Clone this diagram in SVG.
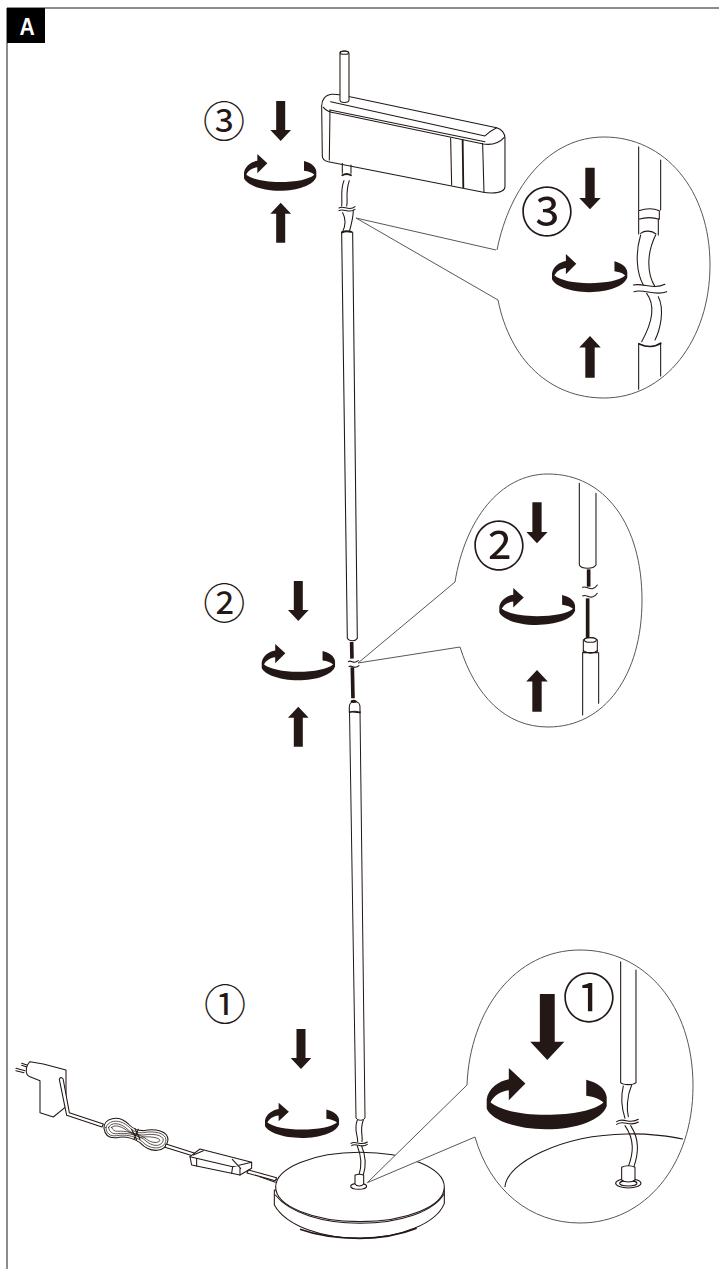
<svg xmlns="http://www.w3.org/2000/svg" xmlns:xlink="http://www.w3.org/1999/xlink" width="719" height="1269" viewBox="0 0 719 1269">
<style>
.l{fill:none;stroke:#231815;stroke-width:3.2;stroke-linecap:round;stroke-linejoin:round}
.f{fill:none;stroke:#231815;stroke-width:2.200;stroke-linecap:round;stroke-linejoin:round}
.w{fill:#fff;stroke:#231815;stroke-width:3.2;stroke-linecap:round;stroke-linejoin:round}
.k{fill:none;stroke:#231815;stroke-width:5.5;stroke-linecap:round}
.h{fill:none;stroke:#231815;stroke-width:11;stroke-linecap:butt}
.c{fill:#fff;stroke:#595757;stroke-width:1}
.t{fill:#231815;font-family:"Noto Sans CJK KR","Liberation Sans",sans-serif;text-anchor:middle}
.d{fill:#231815}
</style>
<defs>
<path id="rot" class="d" d="M180 21C199 26 215 36 217 52L217 68C209 93 162 110 107 110C52 110 9 93 0 73L0 56C3 36 22 23 40 20L40 0L70 28L40 58L40 40C25 42 12 50 7 62C25 76 62 84 107 84C157 84 195 76 211 62C205 56 195 52 180 50Z"/>
<path id="arr" class="d" d="M-13.500 0H13.500V87H31L0 120L-31 87H-13.500Z"/>
</defs>
<rect width="719" height="1269" fill="#fff"/>
<g id="frame">
<path d="M7 1269V8H719" fill="none" stroke="#231815" stroke-width="1"/>
<rect x="7" y="8" width="38" height="35" fill="#000"/>
<text transform="translate(27 35) scale(.88 1)" font-family="'Liberation Sans',sans-serif" font-weight="700" font-size="24" fill="#fff" text-anchor="middle">A</text>
</g>
<g id="base" transform="translate(260 1090) scale(.3333)">
<path class="l" d="M0 250L50 268M0 260L46 277"/>
<path class="w" d="M43 300V345C80 410 190 445 300 445C420 445 530 400 553 340V295Z"/>
<path d="M120 418C180 440 240 445 300 445C360 445 420 435 470 415" fill="none" stroke="#231815" stroke-width="5"/>
<ellipse class="w" cx="300" cy="291" rx="253" ry="104"/>
<path class="l" d="M46 315C90 370 190 400 300 400C420 400 520 365 552 312"/>
</g>
<g id="connectors">
<path id="wedge1" d="M367.300 1182.700L467 1085V1137L475 1137Z" fill="#fff" stroke="none"/>
<path class="c" fill="none" d="M367.300 1182.700L467 1085M367.300 1182.700L475 1137"/>
<path class="c" fill="none" d="M356 218L496 250M356 218L498 300M358 663L455 582M358 663L460 647"/>
</g>
<g id="lamp-head" transform="translate(190 30) scale(.3333)">
<path class="w" d="M395 228C395 210 405 195 425 193C440 192 470 197 480 200L920 293C935 297 945 310 945 325V470C945 482 930 488 905 489C895 489 885 488 880 487L415 395C405 393 397 388 397 378Z"/>
<path class="l" d="M400 232C410 245 425 248 440 250L880 342C900 345 925 342 943 322"/>
<path class="l" d="M420 240L885 335"/>
<path class="l" d="M422 215L885 318C895 308 905 300 920 293"/>
<path class="l" d="M420 240L418 390M782 325L785 465M878 340L882 487"/>
<path class="k" d="M818 330L820 472"/>
<path class="w" d="M450 210V72C450 60 477 60 477 72V210C477 220 450 220 450 210Z"/>
<ellipse class="l" cx="463" cy="68" rx="13" ry="5"/>
<path class="l" d="M457 400V430M483 405V430"/>
<path class="k" d="M457 436C465 431 475 431 483 436"/>
<path class="l" d="M462 452C450 480 458 510 455 528M478 452C465 490 475 510 470 528"/>
<path class="l" d="M447 534C460 525 478 545 495 530M447 542C460 533 478 552 495 538"/>
<path class="l" d="M458 548C470 570 465 590 458 605M490 540C490 565 482 590 478 605"/>
<path class="k" d="M456 607C465 603 475 603 484 606"/>
</g>
<g id="pole-upper" transform="translate(190 570) scale(.3333)">
<path class="l" d="M455 -1014L472 205C478 215 495 215 502 205L488 -1014"/>
<path class="h" d="M485 216L486 266M487 292L489 385"/>
<path class="l" d="M475 275C485 268 490 285 505 272M477 290C487 283 492 300 507 287"/>
<path class="w" d="M478 410C478 390 510 390 510 410V428L478 425Z"/>
<ellipse cx="491" cy="394" rx="9" ry="5" fill="#231815"/>
<path class="l" d="M478 428C488 423 500 423 510 428"/>
</g>
<g id="pole-lower" fill="none" stroke="#231815" stroke-width="1">
<path d="M349.500 711L356 1118C358 1121 363 1121 365 1118L360 711"/>
</g>
<g id="base-wire" transform="translate(260 1090) scale(.3333)">
<path class="l" d="M292 90C280 120 295 140 293 155M310 90C298 120 310 140 306 155"/>
<path class="l" d="M273 160C285 150 305 170 322 156M275 167C287 157 305 177 322 163"/>
<path class="l" d="M292 168C305 200 305 230 297 255M305 168C320 205 318 230 310 255"/>
<ellipse class="w" cx="296" cy="289" rx="24" ry="9"/>
<path class="w" d="M285 256C292 252 305 252 311 256V282C305 290 290 290 285 282Z"/>
</g>
<g id="power-cable" transform="translate(0 1040) scale(.3333)">
<path class="l" d="M48 85L75 92M48 92L72 98M65 70L90 78M65 76L88 83"/>
<path class="w" d="M90 65L130 72L198 90V200L160 231L120 218V122L90 110C75 105 75 80 90 65Z"/>
<path class="w" d="M178 118C180 110 190 112 190 120L208 218L310 252L306 261L200 226Z"/>
<path class="w" d="M312 265C310 235 355 222 385 252C400 268 415 272 430 272C465 265 505 272 504 300C498 340 450 340 420 308C395 292 375 288 350 293C325 296 315 285 312 265Z"/>
<path class="f" d="M318 262C325 240 360 235 388 262C400 275 412 280 430 278C460 272 498 278 498 300C495 330 450 332 425 303C400 286 375 283 350 287C330 290 318 280 318 262Z"/>
<path class="f" d="M326 262C332 247 360 245 385 270C398 282 410 285 432 285C458 280 490 285 490 300C486 322 455 322 432 298C405 282 378 278 352 281C338 283 326 275 326 262Z"/>
<path class="f" d="M335 262C345 253 365 258 388 277L420 292C445 288 480 292 480 302C470 312 450 308 432 292C405 278 375 272 352 274C345 274 337 270 335 262Z"/>
<path class="l" d="M395 268L410 300M405 266L420 298M415 268L402 298"/>
<path class="w" d="M498 312L585 340L582 349L495 322Z"/>
<path class="w" d="M570 350L600 327L755 367V385L720 405L575 375Z"/>
<path class="l" d="M570 350L698 380L755 367M590 356V378M698 380L695 400M720 385V405M580 345L610 332M697 358L722 385"/>
<path class="w" d="M745 390L830 413L826 422L741 399Z"/>
</g>
<g id="callout-3">
<path class="c" d="M497 250C510 185 550 137 604 137C665 137 710 190 710 265C710 340 665 398 604 398C550 398 510 360 498 300"/>
<g transform="translate(490 130) scale(.3333)">
<path class="l" d="M446 50V240M512 90V240"/>
<path class="w" d="M446 242C470 234 490 234 508 242V268C490 262 465 262 446 268Z"/>
<path class="l" d="M446 270V312M505 268V315"/>
<path class="l" d="M452 315C435 370 440 430 460 465M497 315C470 370 470 430 495 470"/>
<path class="l" d="M452 310C465 300 485 302 498 312"/>
<path class="l" d="M430 465C460 458 490 480 525 463M432 485C460 475 495 500 530 485"/>
<path class="l" d="M470 490C500 530 480 590 455 635M505 500C525 540 510 600 495 630"/>
<path class="k" d="M448 642C470 652 495 652 512 640"/>
<path class="l" d="M446 640V778M512 640V738"/>
</g>
</g>
<g id="callout-2">
<path class="c" d="M455 582C465 520 500 474 548 474C605 474 642 525 642 600C642 675 605 727 548 727C505 727 475 695 460 647"/>
<g transform="translate(440 470) scale(.3333)">
<path class="l" d="M418 40V285C425 298 460 298 468 285V70"/>
<path class="h" d="M446 298V350"/>
<path class="h" d="M443 385V505"/>
<path class="l" d="M428 352C440 345 455 370 472 345M428 378C440 370 455 395 472 370"/>
<path class="w" d="M430 510C440 500 462 500 472 510V548H430Z"/>
<ellipse cx="451" cy="510" rx="18" ry="7" class="w"/>
<path class="l" d="M430 542C445 552 460 552 472 542"/>
<path class="l" d="M428 548V735M476 548V700"/>
</g>
</g>
<g id="callout-1">
<path class="c" d="M467 1085C470 1010 515 950 580 950C645 950 693 1005 693 1086C693 1165 645 1223 580 1223C530 1223 490 1190 475 1137"/>
<g transform="translate(460 940) scale(.3333)">
<path class="l" d="M135 740C140 670 300 585 500 582C560 580 640 590 668 597"/>
<path class="l" d="M482 65V428C490 436 520 436 528 428V90"/>
<path class="l" d="M490 438C480 480 490 520 495 535M515 435C500 470 500 510 505 530"/>
<path class="l" d="M470 545C490 530 510 555 535 538M470 553C490 538 510 563 535 546"/>
<path class="l" d="M495 557C525 600 520 640 505 680M512 557C540 600 535 640 522 680"/>
<ellipse class="w" cx="505" cy="730" rx="38" ry="14"/>
<ellipse class="l" cx="505" cy="730" rx="26" ry="8"/>
<path class="w" d="M485 682C495 676 515 676 525 682V720C515 728 495 728 485 720Z"/>
</g>
</g>
<g id="arrows">
<use xlink:href="#arr" href="#arr" transform="translate(280.700 101) scale(.3333)"/>
<use xlink:href="#arr" href="#arr" transform="translate(280.700 242.700) scale(.3333 -.3333)"/>
<use xlink:href="#rot" href="#rot" transform="translate(244 154) scale(.3333)"/>
<use xlink:href="#arr" href="#arr" transform="translate(590 167.700) scale(.347)"/>
<use xlink:href="#arr" href="#arr" transform="translate(590 377.700) scale(.347 -.347)"/>
<use xlink:href="#rot" href="#rot" transform="translate(552 254) scale(.347)"/>
<use xlink:href="#arr" href="#arr" transform="translate(298.300 581) scale(.3333)"/>
<use xlink:href="#arr" href="#arr" transform="translate(298.300 746.700) scale(.3333 -.3333)"/>
<use xlink:href="#rot" href="#rot" transform="translate(261.700 644) scale(.338 .33)"/>
<use xlink:href="#arr" href="#arr" transform="translate(537 502.300) scale(.342)"/>
<use xlink:href="#arr" href="#arr" transform="translate(537 711.700) scale(.347 -.347)"/>
<use xlink:href="#rot" href="#rot" transform="translate(499.300 588) scale(.349 .336)"/>
<use xlink:href="#arr" href="#arr" transform="translate(301 1029) scale(.3333)"/>
<use xlink:href="#rot" href="#rot" transform="translate(265 1102.700) scale(.341 .32)"/>
<use xlink:href="#arr" href="#arr" transform="translate(547.300 994) scale(.55)"/>
<use xlink:href="#rot" href="#rot" transform="translate(486.700 1068) scale(.553 .557)"/>
</g>
<g id="labels">
<text class="t" x="224" y="137" font-size="42">③</text>
<text class="t" x="547" y="232" font-size="53">③</text>
<text class="t" x="224.300" y="619" font-size="42">②</text>
<text class="t" x="499" y="566" font-size="53">②</text>
<text class="t" x="225" y="1020" font-size="42">①</text>
<text class="t" x="589" y="1018" font-size="53">①</text>
</g>
</svg>
